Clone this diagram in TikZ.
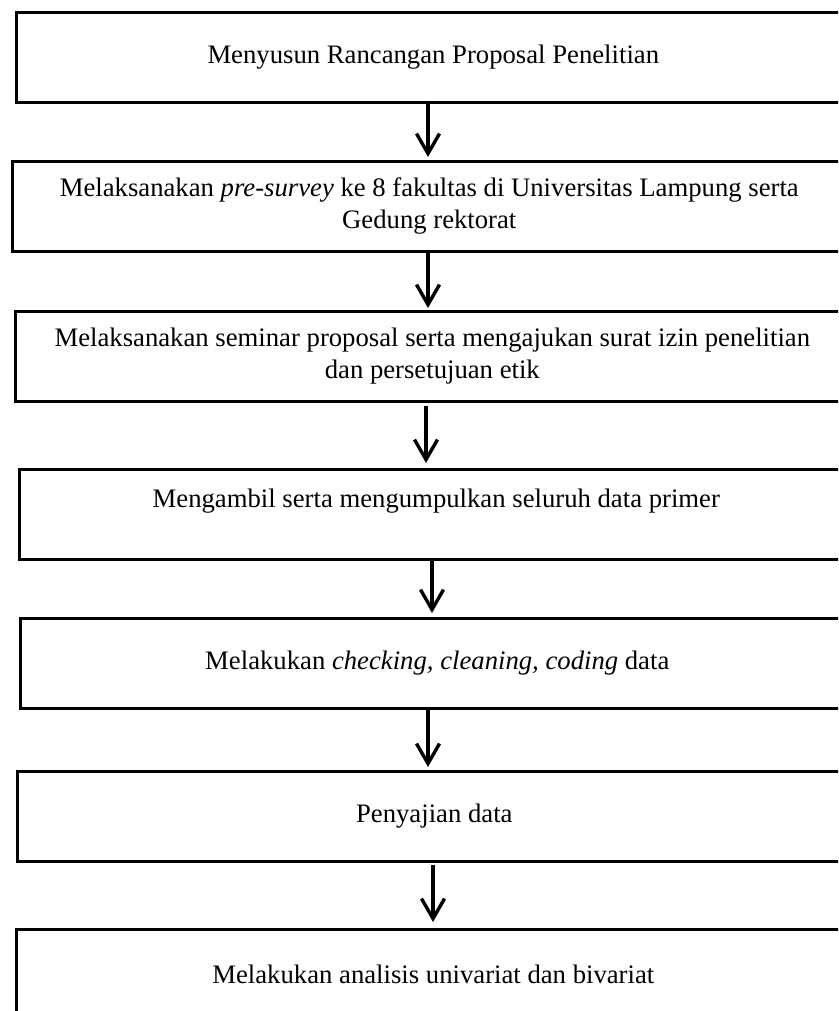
\documentclass[tikz,border=0pt]{standalone}
\usepackage{fontspec}
\setmainfont{Liberation Serif}
\usetikzlibrary{arrows.meta}
\begin{document}
\begin{tikzpicture}[x=1pt,y=-1pt,
  stepbox/.style={draw=black, line width=2.6pt, minimum width=834pt, minimum height=90pt,
    inner sep=0pt, align=center, anchor=north west,
    font=\fontsize{26.7}{32}\selectfont},
  flow/.style={line width=3.4pt, -{Straight Barb[length=20pt,width=23pt,line width=3.4pt]}}]
\useasboundingbox (0,0) rectangle (838,1011);
\clip (0,0) rectangle (838,1011);
\node[stepbox] (b1) at (15,11) {Menyusun Rancangan Proposal Penelitian};
\node[stepbox] (b2) at (11,160) {Melaksanakan \textit{pre-survey} ke 8 fakultas di Universitas Lampung serta\\Gedung rektorat};
\node[stepbox] (b3) at (14,310) {Melaksanakan seminar proposal serta mengajukan surat izin penelitian\\dan persetujuan etik};
\node[stepbox] (b4) at (18,468) {Mengambil serta mengumpulkan seluruh data primer\\\mbox{}};
\node[stepbox] (b5) at (19,617) {Melakukan \textit{checking, cleaning, coding} data};
\node[stepbox] (b6) at (16,770) {Penyajian data};
\node[stepbox] (b7) at (15,928) {Melakukan analisis univariat dan bivariat};
\coordinate (a1) at (428,0);
\coordinate (a2) at (428,0);
\coordinate (a3) at (426,0);
\coordinate (a4) at (432,0);
\coordinate (a5) at (428,0);
\coordinate (a6) at (433,0);
\draw[flow, shorten <=-3pt, shorten >=3pt] (b1.south -| a1) -- (b2.north -| a1);
\draw[flow, shorten >=2pt] (b2.south -| a2) -- (b3.north -| a2);
\draw[flow, shorten <=3pt, shorten >=5pt] (b3.south -| a3) -- (b4.north -| a3);
\draw[flow, shorten >=4pt] (b4.south -| a4) -- (b5.north -| a4);
\draw[flow, shorten >=3pt] (b5.south -| a5) -- (b6.north -| a5);
\draw[flow, shorten <=2pt, shorten >=6pt] (b6.south -| a6) -- (b7.north -| a6);
\end{tikzpicture}
\end{document}
